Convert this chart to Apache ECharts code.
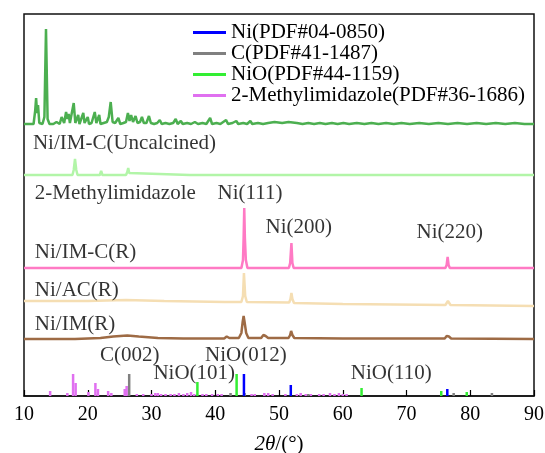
<!DOCTYPE html>
<html>
<head>
<meta charset="utf-8">
<script src="https://cdn.jsdelivr.net/npm/echarts@6/dist/echarts.min.js"></script>
<style>
  html, body { margin: 0; padding: 0; background: #fff; }
  #chart { width: 545px; height: 453px; }
</style>
</head>
<body>
<div id="chart"></div>
<script>
// XRD patterns: [2θ (°), intensity (a.u.)] above each pattern's own baseline
const patternNames = ['2-Methylimidazole', 'Ni/IM-C(Uncalcined)', 'Ni/IM-C(R)', 'Ni/AC(R)', 'Ni/IM(R)'];
// vertical stacking offset of each pattern (a.u.)
const patternOffsets = [271, 221, 128, 90, 57];

const meImPattern = [
  [10,1],[11.5,1],[11.75,14],[11.9,27],[12.05,12],[12.2,20],[12.4,2],[12.9,1],[13.2,8],[13.45,96],[13.7,6],[14.0,1],
  [14.6,1],[15.1,3],[15.4,5],[15.6,1],[15.9,8],[16.05,10],[16.3,2],[16.6,13],[16.8,6],[17.0,11],[17.2,2],[17.5,2],
  [17.8,22],[18.05,2],[18.5,10],[18.7,1],[19.0,2],[19.3,12],[19.5,2],[19.8,1],[20.0,8],[20.2,1],[20.6,2],[21.1,13],
  [21.35,2],[21.8,10],[22.0,1],[22.5,2],[23.0,3],[23.3,8],[23.6,23],[23.9,3],[24.3,2],[24.8,7],[25.1,1],[25.6,2],
  [26.0,3],[26.3,12],[26.55,4],[26.8,10],[27.1,3],[27.5,9],[27.8,2],[28.2,3],[28.5,8],[28.8,2],[29.2,2],[29.6,9],
  [29.9,2],[30.4,1],[30.9,2],[31.3,5],[31.6,1],[32.2,2],[32.8,1],[33.4,2],[33.8,6],[34.1,1],[34.6,4],[34.9,1],
  [35.6,2],[36.2,1],[36.8,3],[37.3,1],[38.0,2],[38.6,1],[39.2,7],[39.5,1],[40.2,2],[40.8,1],[41.7,5],[42.0,1],
  [42.7,2],[43.3,4],[43.6,1],[44.4,2],[45.0,1],[45.5,4],[45.8,1],[46.7,2],[47.5,1],[48.3,2],[49.3,3],[49.6,1],
  [50.5,2],[51.5,3],[51.8,1],[52.8,2],[53.7,1],[54.6,2],[55.5,1],[56.4,2],[57.3,1],[58.3,2],[59.2,1],[60.1,2],
  [61.0,1],[62.2,2],[63.4,1],[64.5,2],[65.6,1],[66.8,2],[68.0,1],[69.2,2],[70.5,1],[72.0,2],[73.5,1],[75.0,2],
  [76.5,1],[78.0,2],[79.5,1],[81.0,2],[82.5,1],[84.0,2],[85.5,1],[87.0,2],[88.5,1],[90,1]
];
const uncalcinedPattern = [
  [10,0],[17.6,0],[17.8,5],[18.0,16],[18.2,5],[18.4,0],[21.9,0],[22.1,4],[22.3,0],[26.0,0],[26.2,3],[26.35,7],
  [26.5,2],[26.7,0],[36.0,0],[36.2,2],[36.4,0],[90,0]
];
const niImcPattern = [
  [10,0],[44.1,0],[44.35,8],[44.45,30],[44.55,60],[44.65,30],[44.8,8],[45.05,0],[51.55,0],[51.75,5],[51.95,25],
  [52.1,5],[52.3,0],[76.1,0],[76.3,3],[76.45,11],[76.6,3],[76.8,0],[90,0]
];
const niAcPattern = [
  [10,5],[20,5],[26,6],[32,5],[41.5,4],[41.8,5.5],[42.1,4],[44.1,4],[44.35,10],[44.5,33],[44.7,10],[44.95,4],
  [51.6,3.5],[51.8,7],[51.95,13],[52.1,7],[52.35,3],[60,2],[76.1,1],[76.35,3],[76.5,5],[76.65,3],[76.9,1],[90,0]
];
const niImPattern = [
  [10,0],[18,0],[22,1],[24,2.5],[26.2,3.5],[28,2.5],[31,1],[35,0.5],[41.4,0.5],[41.8,2.5],[42.2,1],[43.7,1],
  [44.1,6],[44.3,17],[44.45,23],[44.6,17],[44.85,6],[45.2,1],[47.2,1],[47.55,4],[47.7,6],[47.9,3],[48.3,1],
  [51.5,1],[51.75,4],[51.9,8],[52.1,4],[52.4,1],[60,0.5],[76.0,0.5],[76.3,3],[76.45,4],[76.65,2.5],[77,0.5],[90,0]
];
const patterns = [meImPattern, uncalcinedPattern, niImcPattern, niAcPattern, niImPattern];

// Standard reference cards: [2θ (°), relative intensity]
const cardNames = ['Ni(PDF#04-0850)', 'C(PDF#41-1487)', 'NiO(PDF#44-1159)', '2-Methylimidazole(PDF#36-1686)'];
const cardNi = [[44.5,22],[51.85,11],[76.4,7]];
const cardC = [[26.5,22],[42.4,3],[44.6,3],[54.6,2],[77.4,3],[83.4,3]];
const cardNiO = [[37.2,14],[43.35,22],[62.95,8],[75.45,5],[79.45,4]];
const cardMeIm = [
  [14.1,5],[16.8,3],[17.7,22],[18.1,13],[20.1,4],[21.2,13],[21.6,7],[23.2,5],[23.7,3],[25.8,7],[26.1,10],
  [27.7,2],[28.7,2],[30.0,2],[30.6,3],[31.0,3],[31.5,2],[32.2,2],[33.0,2],[33.6,2],[34.3,3],[35.0,2],[35.6,3],
  [36.2,4],[36.7,2],[38.0,2],[38.6,2],[39.5,2],[40.4,2],[41.0,2],[45.7,2],[46.2,2],[47.7,3],[48.3,3],[49.0,2],
  [51.0,2],[52.8,2],[53.4,3],[54.2,2],[55.0,2],[56.3,2],[57.0,2],[58.0,3],[58.7,2],[59.4,3],[60.0,2],[60.6,2]
];
const cards = [cardNi, cardC, cardNiO, cardMeIm];

// Text annotations: [text, 2θ, intensity, alignment]
const annotations = [
  ['Ni/IM-C(Uncalcined)', 11.4, 253, 'left'],
  ['2-Methylimidazole', 11.7, 203, 'left'],
  ['Ni(111)', 45.45, 203, 'center'],
  ['Ni(200)', 53.1, 169, 'center'],
  ['Ni(220)', 76.8, 164, 'center'],
  ['Ni/IM-C(R)', 11.7, 144, 'left'],
  ['Ni/AC(R)', 11.7, 106, 'left'],
  ['Ni/IM(R)', 11.7, 72, 'left'],
  ['C(002)', 26.6, 41, 'center'],
  ['NiO(012)', 44.8, 41, 'center'],
  ['NiO(101)', 36.7, 23, 'center'],
  ['NiO(110)', 67.6, 23, 'center']
];

const xTicks = { min: 10, max: 90, interval: 10 };

const patternColors = ['#4caf50', '#b2f5a8', '#ff7ac4', '#f5deb3', '#9e6b45'];
const cardColors = ['#0000ff', '#808080', '#33ee33', '#e070f0'];
const FONT = '"Liberation Serif", "Times New Roman", serif';

const chart = echarts.init(document.getElementById('chart'), null, { renderer: 'canvas' });

const series = [];
patterns.forEach((p, i) => {
  series.push({
    name: patternNames[i],
    type: 'line',
    showSymbol: false,
    silent: true,
    z: 3,
    lineStyle: { color: patternColors[i], width: 2.5 },
    data: p.map(([x, v]) => [x, v + patternOffsets[i]])
  });
});
// reference sticks, the organic card underneath the others
[3, 1, 2, 0].forEach(i => {
  series.push({
    name: cardNames[i],
    type: 'bar',
    barWidth: 2.5,
    barGap: '-100%',
    silent: true,
    z: 2,
    itemStyle: { color: cardColors[i] },
    data: cards[i]
  });
});
series.push({
  type: 'scatter',
  symbolSize: 0,
  silent: true,
  z: 5,
  data: annotations.map(([t, x, y, a]) => ({
    value: [x, y],
    label: {
      show: true, position: 'inside', formatter: t, align: a, verticalAlign: 'middle',
      color: '#000', fontFamily: FONT, fontSize: 21
    }
  }))
});

chart.setOption({
  animation: false,
  backgroundColor: '#fff',
  grid: {
    left: 24, right: 11, top: 14, bottom: 57,
    outerBoundsMode: 'none',
    containLabel: false,
    show: true, borderColor: '#111', borderWidth: 1.5, backgroundColor: 'transparent'
  },
  legend: {
    orient: 'vertical',
    left: 193, top: 22,
    padding: 0,
    itemGap: 0,
    itemWidth: 33,
    itemHeight: 3,
    icon: 'rect',
    selectedMode: false,
    textStyle: { fontFamily: FONT, fontSize: 21, color: '#000', lineHeight: 21 },
    data: cardNames
  },
  xAxis: {
    type: 'value',
    min: xTicks.min, max: xTicks.max, interval: xTicks.interval,
    axisLine: { show: true, lineStyle: { color: '#111', width: 1.5 } },
    axisTick: { show: true, inside: true, length: 6, lineStyle: { color: '#000', width: 1.2 } },
    splitLine: { show: false },
    axisLabel: { color: '#000', fontFamily: FONT, fontSize: 20, margin: 9 },
    name: '{i|2θ}/(°)',
    nameLocation: 'middle',
    nameGap: 38,
    nameTextStyle: {
      color: '#000', fontFamily: FONT, fontSize: 21,
      rich: { i: { fontStyle: 'italic', fontFamily: FONT, fontSize: 21, color: '#000' } }
    }
  },
  yAxis: {
    type: 'value', min: 0, max: 382, show: false,
    splitLine: { show: false }
  },
  series
});
</script>
</body>
</html>
